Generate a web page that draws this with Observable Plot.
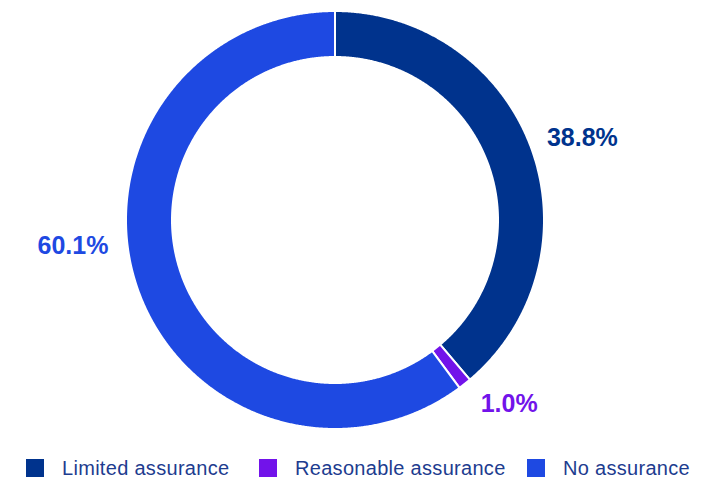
<!DOCTYPE html>
<html>
<head>
<meta charset="utf-8">
<script src="https://cdn.jsdelivr.net/npm/d3@7"></script>
<script src="https://cdn.jsdelivr.net/npm/@observablehq/plot@0.6"></script>
<style>
  html, body { margin: 0; padding: 0; background: #fff; }
  #chart { width: 714px; height: 480px; position: relative; overflow: hidden; }
  #legend { position: absolute; left: 0; top: 453px; height: 30px; width: 714px;
    font-family: "Liberation Sans", Arial, sans-serif; font-size: 20px; color: #1d3c8f; letter-spacing: 0.3px; }
  .item { position: absolute; top: 0; height: 30px; display: flex; align-items: center; }
  .sw { width: 18px; height: 18px; margin-right: 18px; }
</style>
</head>
<body>
<div id="chart"><div id="plot"></div><div id="legend"></div></div>
<script>
const categories = ["Limited assurance", "Reasonable assurance", "No assurance"];
const values = [38.8, 1.0, 60.1];
const labels = ["38.8%", "1.0%", "60.1%"];
const colors = ["#00338D", "#7213EA", "#1E49E2"];

const rows = categories.map((c, i) => ({cat: c, value: values[i], label: labels[i]}));
const arcs = d3.pie().sort(null).value(d => d.value)(rows);

const rOuter = 1, rInner = 163 / 209;
const pts = [];
for (const a of arcs) {
  const n = Math.max(4, Math.ceil((a.endAngle - a.startAngle) / 0.005));
  for (let k = 0; k <= n; k++) {
    const t = a.startAngle + (a.endAngle - a.startAngle) * k / n;
    pts.push({cat: a.data.cat, x: rOuter * Math.sin(t), y: rOuter * Math.cos(t)});
  }
  for (let k = n; k >= 0; k--) {
    const t = a.startAngle + (a.endAngle - a.startAngle) * k / n;
    pts.push({cat: a.data.cat, x: rInner * Math.sin(t), y: rInner * Math.cos(t)});
  }
}
const labelRows = arcs.map(a => {
  const m = (a.startAngle + a.endAngle) / 2;
  return {cat: a.data.cat, label: a.data.label, x: 1.25 * Math.sin(m), y: 1.25 * Math.cos(m)};
});

const W = 714, H = 450, cx = 334.5, cy = 219.5, R = 209;
const textOpts = {x: "x", y: "y", text: "label", fill: "cat", fontSize: 25, fontWeight: "bold",
  fontFamily: "Liberation Sans, Arial, sans-serif"};

const plot = Plot.plot({
  width: W, height: H, margin: 0,
  x: {domain: [-cx / R, (W - cx) / R], axis: null},
  y: {domain: [-(H - cy) / R, cy / R], axis: null},
  color: {domain: categories, range: colors},
  style: {background: "#fff"},
  marks: [
    Plot.line(pts, {x: "x", y: "y", z: "cat", fill: "cat", stroke: "white", strokeWidth: 2, curve: "linear-closed"}),
    Plot.text(labelRows.filter(d => d.cat === categories[0]), {...textOpts, dx: 2, dy: 8}),
    Plot.text(labelRows.filter(d => d.cat === categories[1]), {...textOpts, dx: 12, dy: -21}),
    Plot.text(labelRows.filter(d => d.cat === categories[2]), {...textOpts, dx: -14, dy: -56})
  ]
});
document.getElementById("plot").appendChild(plot);

const legendLeft = [26, 259, 527];
const legend = document.getElementById("legend");
categories.forEach((c, i) => {
  const it = document.createElement("div");
  it.className = "item";
  it.style.left = legendLeft[i] + "px";
  const sw = document.createElement("div");
  sw.className = "sw";
  sw.style.background = colors[i];
  const tx = document.createElement("span");
  tx.textContent = c;
  it.appendChild(sw); it.appendChild(tx);
  legend.appendChild(it);
});
</script>
</body>
</html>
